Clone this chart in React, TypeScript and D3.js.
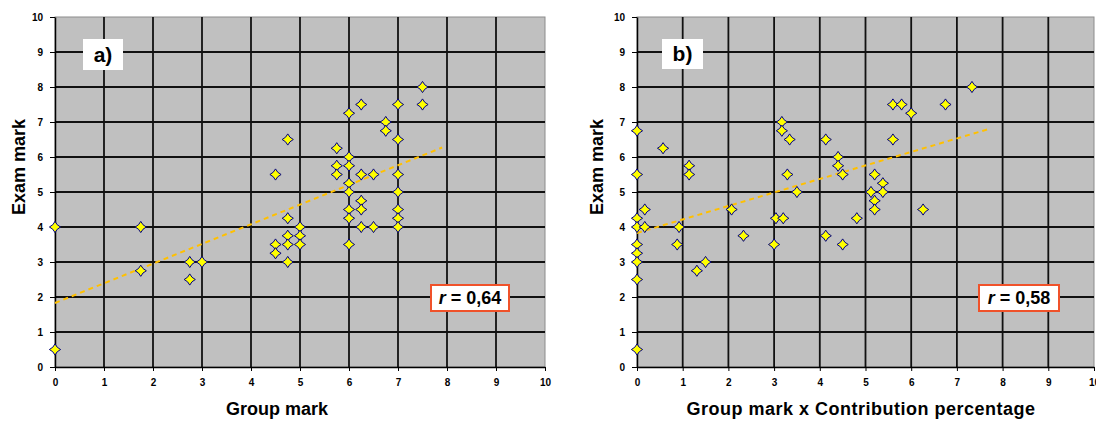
import React, { useEffect, useRef } from "react";
import * as d3 from "d3";

// ticks shared by both panels
const xTicks = [0, 1, 2, 3, 4, 5, 6, 7, 8, 9, 10];
const yTicks = [0, 1, 2, 3, 4, 5, 6, 7, 8, 9, 10];

// panel a) group mark vs exam mark
const groupMarkA = [
  0, 0, 1.75, 1.75, 2.75, 2.75, 3,
  4.5, 4.5, 4.5,
  4.75, 4.75, 4.75, 4.75, 4.75,
  5, 5, 5,
  5.75, 5.75, 5.75,
  6, 6, 6, 6, 6, 6, 6, 6,
  6.25, 6.25, 6.25, 6.25, 6.25,
  6.5, 6.5,
  6.75, 6.75,
  7, 7, 7, 7, 7, 7, 7,
  7.5, 7.5,
];
const examMarkA = [
  4, 0.5, 4, 2.75, 3, 2.5, 3,
  5.5, 3.5, 3.25,
  6.5, 4.25, 3.75, 3.5, 3,
  4, 3.75, 3.5,
  6.25, 5.75, 5.5,
  7.25, 6, 5.75, 5.25, 5, 4.5, 4.25, 3.5,
  7.5, 5.5, 4.75, 4.5, 4,
  5.5, 4,
  7, 6.75,
  7.5, 6.5, 5.5, 5, 4.5, 4.25, 4,
  8, 7.5,
];
const trendA = [
  [0, 1.83],
  [7.9, 6.27],
];

// panel b) group mark x contribution vs exam mark
const contributionB = [
  0, 0, 0, 0, 0, 0, 0, 0, 0,
  0.17, 0.17, 0.57, 0.88, 0.92, 1.14, 1.14, 1.31, 1.5,
  2.07, 2.33,
  3.0, 3.04, 3.17, 3.17, 3.2, 3.29, 3.34, 3.5,
  4.13, 4.13, 4.4, 4.4, 4.5, 4.5, 4.81,
  5.12, 5.2, 5.2, 5.2, 5.38, 5.38,
  5.6, 5.6, 5.79, 6.0, 6.26, 6.75, 7.33,
];
const examMarkB = [
  6.75, 5.5, 4.25, 4, 3.5, 3.25, 3, 2.5, 0.5,
  4.5, 4, 6.25, 3.5, 4, 5.75, 5.5, 2.75, 3,
  4.5, 3.75,
  3.5, 4.25, 7, 6.75, 4.25, 5.5, 6.5, 5,
  6.5, 3.75, 6, 5.75, 5.5, 3.5, 4.25,
  5, 5.5, 4.75, 4.5, 5.25, 5,
  7.5, 6.5, 7.5, 7.25, 4.5, 7.5, 8,
];
const trendB = [
  [0, 3.83],
  [7.7, 6.8],
];

const FONT = "'Liberation Sans', Arial, sans-serif";

const panels = [
  {
    left: 55, right: 545, top: 17, bottom: 367,
    xs: groupMarkA, ys: examMarkA, trend: trendA,
    xTitle: "Group mark", xTitleX: 277, xTitleSpacing: 0,
    yTitleX: 25,
    tag: "a)", tagBox: [83, 39, 40, 31],
    r: "0,64", rBox: [431, 285, 78, 26],
  },
  {
    left: 637, right: 1094, top: 17, bottom: 367,
    xs: contributionB, ys: examMarkB, trend: trendB,
    xTitle: "Group mark x Contribution percentage", xTitleX: 861, xTitleSpacing: 0.5,
    yTitleX: 603,
    tag: "b)", tagBox: [662, 39, 41, 30],
    r: "0,58", rBox: [979, 285, 80, 26],
  },
];

// diamond with slightly pinched sides, like the Excel marker
const markerPath = "M0,-5.6 Q1.7,-1.7 5.6,0 Q1.7,1.7 0,5.6 Q-1.7,1.7 -5.6,0 Q-1.7,-1.7 0,-5.6 Z";

const App = () => {
  const svgRef = useRef(null);

  useEffect(() => {
    const root = d3.select(svgRef.current);
    root.selectAll("*").remove();

    panels.forEach((p) => {
      const x = d3.scaleLinear().domain([0, 10]).range([p.left, p.right]);
      const y = d3.scaleLinear().domain([0, 10]).range([p.bottom, p.top]);
      const g = root.append("g");

      // plot background
      g.append("rect")
        .attr("x", p.left)
        .attr("y", p.top)
        .attr("width", p.right - p.left)
        .attr("height", p.bottom - p.top)
        .attr("fill", "#c0c0c0")
        .attr("stroke", "#8c8c8c")
        .attr("stroke-width", 1);

      // grid
      g.selectAll(".vgrid")
        .data(xTicks.slice(1, -1))
        .enter()
        .append("line")
        .attr("x1", (d) => x(d))
        .attr("x2", (d) => x(d))
        .attr("y1", p.top)
        .attr("y2", p.bottom)
        .attr("stroke", "#111")
        .attr("stroke-width", 1.8);
      g.selectAll(".hgrid")
        .data(yTicks.slice(1, -1))
        .enter()
        .append("line")
        .attr("x1", p.left)
        .attr("x2", p.right)
        .attr("y1", (d) => y(d))
        .attr("y2", (d) => y(d))
        .attr("stroke", "#111")
        .attr("stroke-width", 1.8);

      // axes
      const yAxis = g
        .append("g")
        .attr("transform", `translate(${p.left},0)`)
        .call(d3.axisLeft(y).tickValues(yTicks).tickSize(5).tickPadding(7).tickSizeOuter(0));
      const xAxis = g
        .append("g")
        .attr("transform", `translate(0,${p.bottom})`)
        .call(d3.axisBottom(x).tickValues(xTicks).tickSize(4).tickPadding(8).tickSizeOuter(0));
      [xAxis, yAxis].forEach((a) => {
        a.select(".domain").attr("stroke", "#000").attr("stroke-width", 1.5);
        a.selectAll("line").attr("stroke", "#000");
        a.selectAll("text")
          .attr("font-family", FONT)
          .attr("font-size", 10)
          .attr("font-weight", "bold")
          .attr("fill", "#000");
      });

      // trend line
      g.append("path")
        .datum(p.trend)
        .attr("d", d3.line().x((d) => x(d[0])).y((d) => y(d[1])))
        .attr("fill", "none")
        .attr("stroke", "#ffc000")
        .attr("stroke-width", 2)
        .attr("stroke-dasharray", "5,4");

      // points
      g.selectAll(".pt")
        .data(p.xs.map((v, i) => [v, p.ys[i]]))
        .enter()
        .append("path")
        .attr("d", markerPath)
        .attr("transform", (d) => `translate(${x(d[0])},${y(d[1])})`)
        .attr("fill", "#ffff00")
        .attr("stroke", "#000080")
        .attr("stroke-width", 1);

      // titles
      g.append("text")
        .attr("x", p.xTitleX)
        .attr("y", 415)
        .attr("text-anchor", "middle")
        .attr("font-family", FONT)
        .attr("font-size", 18)
        .attr("font-weight", "bold")
        .attr("letter-spacing", p.xTitleSpacing)
        .text(p.xTitle);
      g.append("text")
        .attr("transform", `translate(${p.yTitleX},167) rotate(-90)`)
        .attr("text-anchor", "middle")
        .attr("font-family", FONT)
        .attr("font-size", 18)
        .attr("font-weight", "bold")
        .text("Exam mark");

      // panel tag
      const [tx, ty, tw, th] = p.tagBox;
      g.append("rect").attr("x", tx).attr("y", ty).attr("width", tw).attr("height", th).attr("fill", "#fff");
      g.append("text")
        .attr("x", tx + tw / 2)
        .attr("y", ty + th / 2 + 7)
        .attr("text-anchor", "middle")
        .attr("font-family", FONT)
        .attr("font-size", 21)
        .attr("font-weight", "bold")
        .text(p.tag);

      // correlation box
      const [rx, ry, rw, rh] = p.rBox;
      g.append("rect")
        .attr("x", rx)
        .attr("y", ry)
        .attr("width", rw)
        .attr("height", rh)
        .attr("fill", "#fff")
        .attr("stroke", "#f0522a")
        .attr("stroke-width", 2);
      const rt = g
        .append("text")
        .attr("x", rx + rw / 2)
        .attr("y", ry + rh / 2 + 6)
        .attr("text-anchor", "middle")
        .attr("font-family", FONT)
        .attr("font-size", 18)
        .attr("font-weight", "bold");
      rt.append("tspan").attr("font-style", "italic").text("r");
      rt.append("tspan").text(` = ${p.r}`);
    });
  }, []);

  return (
    <svg
      ref={svgRef}
      width={1096}
      height={421}
      style={{ position: "absolute", left: 0, top: 0, background: "#fff" }}
    ></svg>
  );
};

export default App;
